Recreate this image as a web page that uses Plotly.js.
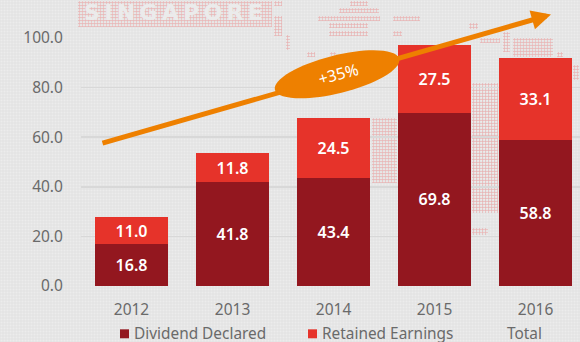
<!DOCTYPE html>
<html><head><meta charset="utf-8">
<script src="https://cdn.plot.ly/plotly-3.0.1.min.js"></script>
<style>
html,body{margin:0;padding:0;width:580px;height:342px;overflow:hidden;background:#e4e4e4}
#tex{position:absolute;inset:0;background-image:radial-gradient(rgba(255,255,255,.3) .8px,transparent 1.1px);background-size:3px 3px}
.m{position:absolute;background-image:radial-gradient(rgba(236,120,120,.42) .9px,transparent 1.3px);background-size:3px 3px}
#sg{position:absolute;left:84px;top:0px;font:bold 22px "DejaVu Sans";letter-spacing:4.3px;color:#ebebeb;white-space:nowrap}
#chart{position:absolute;left:0;top:0;width:580px;height:342px}
</style></head><body>
<div id="tex"></div><div id="map"></div><div id="sg">SINGAPORE</div>
<div id="chart"></div>
<script>
const years=['2012','2013','2014','2015','2016'];
const dividend=[16.8,41.8,43.4,69.8,58.8];
const retained=[11.0,11.8,24.5,27.5,33.1];
const totals=[27.8,53.6,67.9,97.3,91.9];
const tickVals=[0,20,40,60,80,100];
const tickText=['0.0','20.0','40.0','60.0','80.0','100.0'];
const legendNames=['Dividend Declared','Retained Earnings','Total'];
const growthLabel='+35%';

// decorative dotted map behind the chart: [left, top, width, height] in page pixels
const mapPatches=[[78,1,194,26],[274,1,8,5],[274,16,8,20],[286,35,4,15],[350,1,18,5],[339,8,40,5],[318,16,62,5],[393,16,27,5],[329,23,39,5],[329,31,39,5],[393,31,9,5],[307,52,8,5],[330,52,6,4],[469,23,9,6],[480,38,20,5],[503,32,7,20],[513,38,40,19],[557,52,6,5],[372,118,25,65],[472,83,26,130],[472,228,16,7],[573,65,6,15]];
const mapEl=document.getElementById('map');
mapPatches.forEach(p=>{const d=document.createElement('div');d.className='m';d.style.cssText=`left:${p[0]}px;top:${p[1]}px;width:${p[2]}px;height:${p[3]}px`;mapEl.appendChild(d);});

const W=580,H=342,L=81,T=37.5,B=55.5;
const px=x=>(x-L)/(W-L), py=y=>(H-B-y)/(H-B-T);
const FONT='"Noto Sans", sans-serif', GREY='#6a6a6a';

function ellipsePath(cx,cy,a,b,deg){
  const t=deg*Math.PI/180,k=0.5523;
  const P=(u,v)=>{const X=cx+u*Math.cos(t)-v*Math.sin(t),Y=cy+u*Math.sin(t)+v*Math.cos(t);return px(X)+' '+py(Y);};
  return 'M '+P(a,0)+' C '+P(a,k*b)+' '+P(k*a,b)+' '+P(0,b)+' C '+P(-k*a,b)+' '+P(-a,k*b)+' '+P(-a,0)+
    ' C '+P(-a,-k*b)+' '+P(-k*a,-b)+' '+P(0,-b)+' C '+P(k*a,-b)+' '+P(a,-k*b)+' '+P(a,0)+' Z';
}
const legendSwatch=(x,c)=>({type:'rect',xref:'paper',yref:'paper',x0:px(x),x1:px(x+9),y0:py(339),y1:py(330),fillcolor:c,line:{width:0}});
const legendText=(x,t)=>({xref:'paper',yref:'paper',x:px(x),y:py(334.5),xanchor:'left',yanchor:'middle',text:t,showarrow:false,font:{family:FONT,size:15.4,color:GREY}});

const barTrace=(name,vals,color)=>({type:'bar',name,x:years,y:vals,marker:{color,line:{width:0}},
  text:vals.map(v=>v.toFixed(1)),texttemplate:'%{text}',textposition:'inside',insidetextanchor:'middle',constraintext:'none',textangle:0,
  textfont:{family:FONT,size:16,color:'#fff',weight:600},hoverinfo:'skip'});

const data=[barTrace(legendNames[0],dividend,'#93171f'),barTrace(legendNames[1],retained,'#e6332a')];
const layout={
  width:W,height:H,margin:{l:L,r:0,t:T,b:B},paper_bgcolor:'rgba(0,0,0,0)',plot_bgcolor:'rgba(0,0,0,0)',
  barmode:'stack',bargap:0.27,showlegend:false,
  xaxis:{type:'category',range:[-0.5,4.44],showgrid:false,zeroline:false,showline:false,ticks:'outside',ticklen:9,tickcolor:'rgba(0,0,0,0)',
    tickfont:{family:FONT,size:15.5,color:GREY}},
  yaxis:{range:[0,100],tickmode:'array',tickvals:tickVals,ticktext:tickText,gridcolor:'#d8d8d8',gridwidth:1.5,zeroline:false,showline:false,
    ticks:'outside',ticklen:14,tickcolor:'rgba(0,0,0,0)',tickfont:{family:FONT,size:15.5,color:GREY}},
  shapes:[
    {type:'path',xref:'paper',yref:'paper',path:ellipsePath(337,74,64,19,-14),fillcolor:'#ee8000',line:{width:0}},
    legendSwatch(120,'#93171f'),legendSwatch(308,'#e6332a')
  ],
  annotations:[
    ...totals.map((v,i)=>({x:years[i],y:v,yshift:18,yanchor:'middle',xanchor:'center',text:v.toFixed(1),showarrow:false,
      font:{family:FONT,size:16,color:'#555',weight:600}})),
    {xref:'paper',yref:'paper',x:px(551),y:py(14),axref:'pixel',ayref:'pixel',ax:101-551,ay:143-14,text:'',showarrow:true,
      arrowhead:2,arrowsize:0.78,arrowwidth:5,arrowcolor:'#ee8000'},
    {xref:'paper',yref:'paper',x:px(338),y:py(74),xanchor:'center',yanchor:'middle',text:growthLabel,textangle:-15,showarrow:false,
      font:{family:FONT,size:16,color:'#fff'}},
    legendText(131.5,legendNames[0]),legendText(319.5,legendNames[1]),legendText(505,legendNames[2])
  ]
};
Plotly.newPlot('chart',data,layout,{staticPlot:true,displayModeBar:false});
</script></body></html>
